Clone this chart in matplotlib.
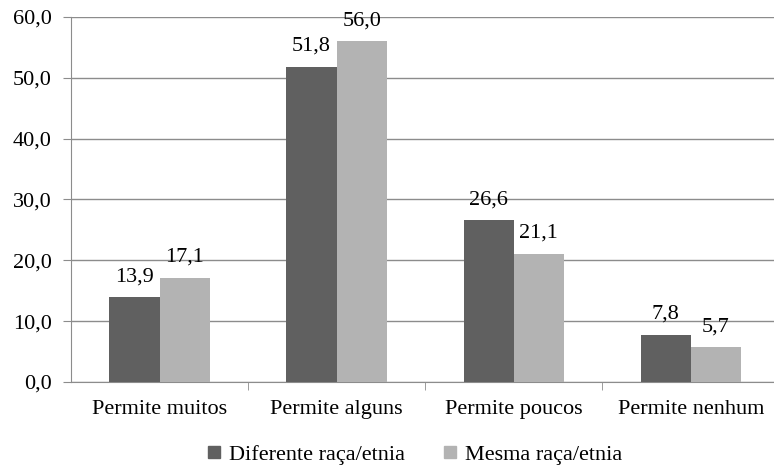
import matplotlib
matplotlib.use('Agg')
import matplotlib.pyplot as plt
from matplotlib.lines import Line2D
import numpy as np

# Data
categories = ['Permite muitos', 'Permite alguns', 'Permite poucos', 'Permite nenhum']
diferente = [13.9, 51.8, 26.6, 7.8]
mesma = [17.1, 56.0, 21.1, 5.7]
series_names = ['Diferente raça/etnia', 'Mesma raça/etnia']
colors = ['#606060', '#b3b3b3']

plt.rcParams['font.family'] = ['Liberation Serif', 'DejaVu Serif']
plt.rcParams['font.size'] = 16

fig = plt.figure(figsize=(7.74, 4.68), dpi=100)
ax = fig.add_axes([0.0917, 0.1838, 0.9083, 0.7799])

x = np.arange(len(categories))
w = 0.283
b1 = ax.bar(x - w / 2, diferente, w, color=colors[0], zorder=3)
b2 = ax.bar(x + w / 2, mesma, w, color=colors[1], zorder=3)

for bars, vals in [(b1, diferente), (b2, mesma)]:
    for r, v in zip(bars, vals):
        ax.annotate(('%.1f' % v).replace('.', ','),
                    (r.get_x() + r.get_width() / 2, v),
                    xytext=(0, 8), textcoords='offset points',
                    ha='center', va='bottom', fontsize=16)

ax.set_ylim(0, 60)
ax.set_xlim(-0.5, 3.47)
yt = np.arange(0, 61, 10)
ax.set_yticks(yt)
ax.set_yticklabels([('%.1f' % t).replace('.', ',') for t in yt])
ax.yaxis.grid(True, color='#8c8c8c', linewidth=1, zorder=0)

ax.set_xticks(x)
ax.set_xticklabels(categories)
ax.set_xticks([0.5, 1.5, 2.5], minor=True)
ax.tick_params(axis='x', which='major', length=0, pad=13)
ax.tick_params(axis='x', which='minor', length=6, color='#8c8c8c', direction='out')
ax.tick_params(axis='y', length=6, color='#8c8c8c', pad=8)

for s in ['top', 'right']:
    ax.spines[s].set_visible(False)
for s in ['left', 'bottom']:
    ax.spines[s].set_color('#8c8c8c')

handles = [Line2D([], [], marker='s', linestyle='none', markersize=8,
                  color=c) for c in colors]
fig.legend(handles, series_names, loc='center', bbox_to_anchor=(0.526, 0.028),
           ncol=2, frameon=False, handletextpad=-0.3, columnspacing=1.0,
           fontsize=16)

fig.savefig('out.png', dpi=100)
